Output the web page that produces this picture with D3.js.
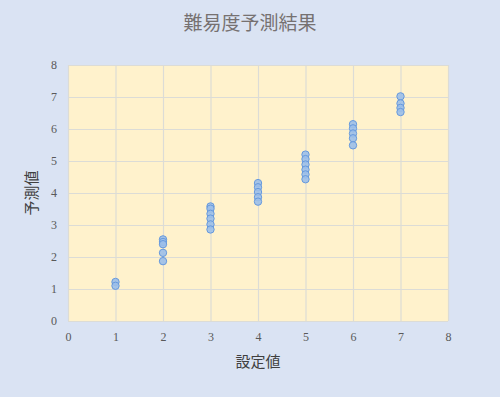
<!DOCTYPE html>
<html>
<head>
<meta charset="utf-8">
<script src="https://cdn.jsdelivr.net/npm/d3@7/dist/d3.min.js"></script>
<style>
  body { margin: 0; background: #dae3f3; }
  svg { display: block; }
</style>
</head>
<body>
<div id="chart"></div>
<script>
// 設定値 (x) and 予測値 (y), one array per column of points
var setValues = [1, 2, 3, 4, 5, 6, 7];
var predicted = [
  [1.22, 1.1],
  [2.55, 2.47, 2.4, 2.13, 1.87],
  [3.58, 3.51, 3.35, 3.2, 3.02, 2.86],
  [4.31, 4.18, 4.03, 3.87, 3.73],
  [5.2, 5.06, 4.89, 4.73, 4.58, 4.43],
  [6.15, 6.02, 5.86, 5.71, 5.49],
  [7.02, 6.8, 6.66, 6.53]
];
var xTicks = [0, 1, 2, 3, 4, 5, 6, 7, 8];
var yTicks = [0, 1, 2, 3, 4, 5, 6, 7, 8];

var width = 500, height = 397;
var margin = {top: 65, right: 52, bottom: 76, left: 68};

var points = [];
for (i = 0; i < setValues.length; i++) {
  for (j = 0; j < predicted[i].length; j++) {
    points.push({x: setValues[i], y: predicted[i][j]});
  }
}

var svg = d3.select("#chart").append("svg")
  .attr("width", width)
  .attr("height", height);

svg.append("rect")
  .attr("width", width)
  .attr("height", height)
  .attr("fill", "#dae3f3");

var xScale = d3.scaleLinear()
  .domain([0, 8])
  .range([margin.left, width - margin.right]);
var yScale = d3.scaleLinear()
  .domain([0, 8])
  .range([height - margin.bottom, margin.top]);

svg.append("rect")
  .attr("x", xScale(0))
  .attr("y", yScale(8))
  .attr("width", xScale(8) - xScale(0))
  .attr("height", yScale(0) - yScale(8))
  .attr("fill", "#fff2cc");

// gridlines
svg.append("g")
  .attr("transform", "translate(0," + yScale(0) + ")")
  .call(d3.axisBottom(xScale).tickValues(xTicks).tickSize(-(yScale(0) - yScale(8))).tickFormat(""))
  .call(function(g) { g.select(".domain").remove(); })
  .selectAll("line").attr("stroke", "#dcdcd6").attr("stroke-width", 1.2);
svg.append("g")
  .attr("transform", "translate(" + xScale(0) + ",0)")
  .call(d3.axisLeft(yScale).tickValues(yTicks).tickSize(-(xScale(8) - xScale(0))).tickFormat(""))
  .call(function(g) { g.select(".domain").remove(); })
  .selectAll("line").attr("stroke", "#dcdcd6").attr("stroke-width", 1.2);

// tick labels
var xAxis = svg.append("g")
  .attr("transform", "translate(0," + yScale(0) + ")")
  .call(d3.axisBottom(xScale).tickValues(xTicks).tickSize(0).tickPadding(11));
xAxis.select(".domain").remove();
xAxis.selectAll("text")
  .attr("font-family", "'Liberation Serif', serif")
  .attr("font-size", "12px")
  .attr("fill", "#595959");

var yAxis = svg.append("g")
  .attr("transform", "translate(" + xScale(0) + ",0)")
  .call(d3.axisLeft(yScale).tickValues(yTicks).tickSize(0).tickPadding(11));
yAxis.select(".domain").remove();
yAxis.selectAll("text")
  .attr("font-family", "'Liberation Serif', serif")
  .attr("font-size", "12px")
  .attr("fill", "#595959");

// points
svg.selectAll("circle.pt")
  .data(points)
  .enter()
  .append("circle")
    .attr("class", "pt")
    .attr("cx", function(d) { return xScale(d.x); })
    .attr("cy", function(d) { return yScale(d.y); })
    .attr("r", 3.7)
    .attr("fill", "#9cbfe9")
    .attr("fill-opacity", 0.9)
    .attr("stroke", "#6699dd")
    .attr("stroke-width", 1);

// titles
svg.append("text")
  .text("難易度予測結果")
  .attr("x", 250)
  .attr("y", 30)
  .attr("text-anchor", "middle")
  .attr("font-family", "'Noto Sans CJK JP'")
  .attr("font-size", "19px")
  .attr("fill", "#767171");

svg.append("text")
  .text("設定値")
  .attr("x", (xScale(0) + xScale(8)) / 2)
  .attr("y", 367)
  .attr("text-anchor", "middle")
  .attr("font-family", "'Noto Sans CJK JP'")
  .attr("font-size", "15px")
  .attr("fill", "#404040");

svg.append("text")
  .text("予測値")
  .attr("text-anchor", "middle")
  .attr("transform", "translate(37," + ((yScale(0) + yScale(8)) / 2) + ") rotate(-90)")
  .attr("font-family", "'Noto Sans CJK JP'")
  .attr("font-size", "15px")
  .attr("fill", "#404040");
</script>
</body>
</html>
